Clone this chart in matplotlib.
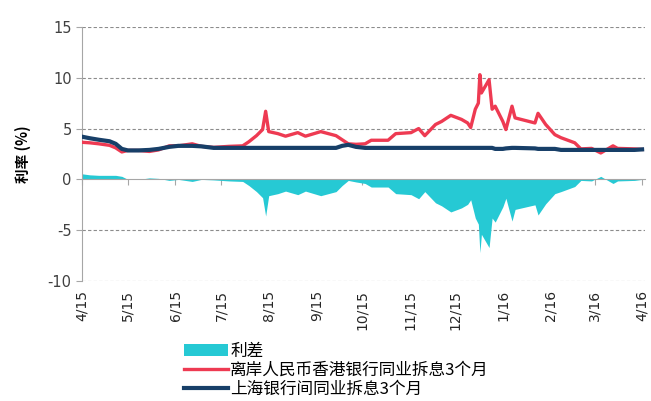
import matplotlib
matplotlib.use("Agg")
import matplotlib.pyplot as plt
import matplotlib.transforms as mtransforms
import pandas as pd

plt.rcParams["font.family"] = ["Noto Sans CJK SC", "DejaVu Sans"]
plt.rcParams["axes.unicode_minus"] = False

dates = [
    "2015-04-01", "2015-04-06", "2015-04-12", "2015-04-19", "2015-04-23", "2015-04-27",
    "2015-05-01", "2015-05-08", "2015-05-15", "2015-05-21", "2015-05-28", "2015-06-03",
    "2015-06-12", "2015-06-18", "2015-06-26", "2015-07-06", "2015-07-15", "2015-07-19",
    "2015-07-24", "2015-07-28", "2015-07-30", "2015-08-01", "2015-08-07", "2015-08-12",
    "2015-08-20", "2015-08-25", "2015-09-04", "2015-09-14", "2015-09-18", "2015-09-22",
    "2015-09-27", "2015-10-03", "2015-10-07", "2015-10-18", "2015-10-23", "2015-11-02",
    "2015-11-07", "2015-11-11", "2015-11-18", "2015-11-22", "2015-11-28", "2015-12-05",
    "2015-12-09", "2015-12-11", "2015-12-14", "2015-12-16", "2015-12-17", "2015-12-18",
    "2015-12-23", "2015-12-25", "2015-12-27", "2016-01-01", "2016-01-03", "2016-01-07",
    "2016-01-09", "2016-01-22", "2016-01-24", "2016-01-29", "2016-02-04", "2016-02-08",
    "2016-02-17", "2016-02-21", "2016-02-28", "2016-03-05", "2016-03-13", "2016-03-16",
    "2016-03-27", "2016-04-01",
]
cnh_hibor = [
    3.65, 3.6, 3.5, 3.35, 3.1, 2.7,
    2.85, 2.85, 2.75, 2.9, 3.3, 3.3,
    3.5, 3.25, 3.15, 3.25, 3.3, 3.7,
    4.3, 4.9, 6.7, 4.7, 4.5, 4.25,
    4.6, 4.25, 4.7, 4.3, 3.9, 3.5,
    3.45, 3.5, 3.85, 3.85, 4.5, 4.6,
    5.0, 4.3, 5.4, 5.7, 6.3, 5.9,
    5.55, 5.1, 6.9, 7.5, 10.3, 8.5,
    9.8, 6.9, 7.2, 5.7, 4.9, 7.2,
    6.05, 5.55, 6.5, 5.4, 4.4, 4.1,
    3.6, 3.0, 3.05, 2.6, 3.3, 3.05,
    3.0, 2.95,
]
shibor = [
    4.2, 4.05, 3.9, 3.75, 3.5, 3.0,
    2.85, 2.85, 2.9, 3.0, 3.2, 3.3,
    3.3, 3.25, 3.1, 3.1, 3.1, 3.1,
    3.1, 3.1, 3.1, 3.1, 3.1, 3.1,
    3.1, 3.1, 3.1, 3.1, 3.3, 3.4,
    3.2, 3.1, 3.1, 3.1, 3.1, 3.1,
    3.1, 3.1, 3.1, 3.1, 3.1, 3.1,
    3.1, 3.1, 3.1, 3.1, 3.1, 3.1,
    3.1, 3.1, 3.0, 3.0, 3.05, 3.1,
    3.1, 3.05, 3.0, 3.0, 3.0, 2.9,
    2.9, 2.9, 2.9, 2.9, 2.9, 2.9,
    2.9, 2.95,
]
month_ticks = pd.date_range("2015-04-01", "2016-04-01", freq="MS")
month_labels = [f"{d.month}/{d.year % 100}" for d in month_ticks]

x = pd.to_datetime(dates)
spread = [s - c for s, c in zip(shibor, cnh_hibor)]

fig = plt.figure(figsize=(6.51, 4.01), dpi=100)
ax = fig.add_axes([0.126, 0.299, 0.865, 0.634])

ax.fill_between(x, spread, 0, color="#26C9D4", lw=0, label="利差", zorder=2)
ax.plot(x, cnh_hibor, color="#EE3A52", lw=2.4, label="离岸人民币香港银行同业拆息3个月", zorder=3)
ax.plot(x, shibor, color="#173F68", lw=3.0, label="上海银行间同业拆息3个月", zorder=4)

ax.set_ylim(-10, 15)
ax.set_yticks(range(-10, 16, 5))
ax.set_xlim(pd.Timestamp("2015-04-01"), pd.Timestamp("2016-04-03"))
for v in (-10, -5, 5, 10, 15):
    ax.axhline(v, color="#8C8C8C", lw=0.8, ls=(0, (3, 2)), zorder=1)

for side in ("top", "right"):
    ax.spines[side].set_visible(False)
ax.spines["bottom"].set_position(("data", 0))
ax.spines["bottom"].set_color("#A6A6A6")
ax.spines["left"].set_color("#A6A6A6")
ax.spines["bottom"].set_zorder(5)

ax.set_xticks(month_ticks)
ax.tick_params(axis="x", labelbottom=False, length=4, color="#A6A6A6")
ax.tick_params(axis="y", length=4, color="#A6A6A6", labelsize=10.5, labelcolor="#404040")
for lab in ax.get_yticklabels():
    lab.set_family("DejaVu Sans")

trans = mtransforms.blended_transform_factory(ax.transData, ax.transAxes)
for d, lab in zip(month_ticks, month_labels):
    ax.text(d, -0.035, lab, transform=trans, rotation=90, ha="center", va="top",
            fontsize=10, color="#262626", family="DejaVu Sans")

ax.set_ylabel("利率 (%)", fontsize=10.5, fontweight="bold", labelpad=12)

fig.legend(loc="upper left", bbox_to_anchor=(0.283, 0.145), frameon=False,
           fontsize=12, handlelength=2.6, handleheight=0.8, labelspacing=0.12,
           handletextpad=0.15, borderaxespad=0, borderpad=0)

fig.savefig("out.png", dpi=100)
plt.close(fig)
